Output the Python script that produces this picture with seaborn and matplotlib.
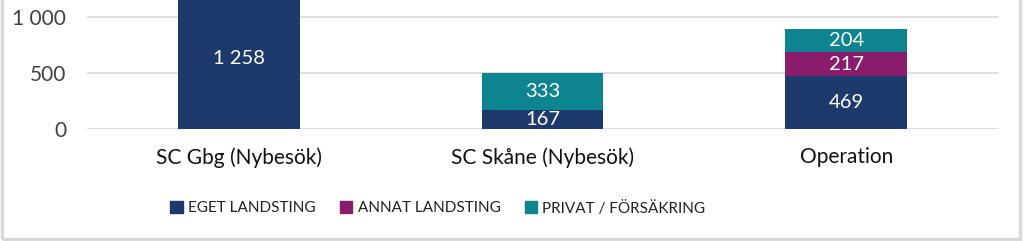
import matplotlib
matplotlib.use("Agg")
import matplotlib.pyplot as plt
import matplotlib.patches as mpatches
from matplotlib import font_manager
import seaborn as sns
import pandas as pd
import numpy as np

categories = ["SC Gbg (Nybesök)", "SC Skåne (Nybesök)", "Operation"]
eget = [1258, 167, 469]
annat = [0, 0, 217]
privat = [0, 333, 204]
series_names = ["EGET LANDSTING", "ANNAT LANDSTING", "PRIVAT / FÖRSÄKRING"]
yticks = [0, 500, 1000]
ytick_labels = ["0", "500", "1 000"]

colors = ["#1E3A6C", "#8A1D6B", "#0F8491"]

sns.set_theme(style="white")
avail = {f.name for f in font_manager.fontManager.ttflist}
main_font = "Lato" if "Lato" in avail else "DejaVu Sans"
plt.rcParams["font.family"] = [main_font, "DejaVu Sans"]

df = pd.DataFrame({"cat": categories, "eget": eget, "annat": annat, "privat": privat})
df["c1"] = df["eget"]
df["c2"] = df["eget"] + df["annat"]
df["c3"] = df["c2"] + df["privat"]

fig = plt.figure(figsize=(10.24, 2.41), dpi=100)
ax = fig.add_axes([87 / 1024, (241 - 129) / 241, (998 - 87) / 1024, 129 / 241])

for col, color in zip(["c3", "c2", "c1"], colors[::-1]):
    sns.barplot(data=df, x="cat", y=col, color=color, width=0.4, ax=ax,
                saturation=1, zorder=3, linewidth=0)

ax.set_ylim(0, 1152)
ax.set_yticks(yticks)
ax.set_yticklabels(ytick_labels)
ax.set_xlabel("")
ax.set_ylabel("")
for s in ax.spines.values():
    s.set_visible(False)
ax.grid(axis="y", color="#D9D9D9", linewidth=1.2, zorder=0)
ax.set_axisbelow(True)
ax.tick_params(axis="y", length=0, pad=15, labelsize=15, labelcolor="#404040")
ax.tick_params(axis="x", length=0, pad=13, labelsize=15, labelcolor="#111111")

# value labels
for i in range(len(categories)):
    bottoms = [0, df["c1"][i], df["c2"][i]]
    vals = [eget[i], annat[i], privat[i]]
    for b, v in zip(bottoms, vals):
        if v > 0:
            txt = f"{v:,}".replace(",", " ")
            ax.text(i, b + v / 2, txt, ha="center", va="center", color="white",
                    fontsize=14.5, zorder=5)

handles = [mpatches.Patch(color=c, label=n) for c, n in zip(colors, series_names)]
leg = fig.legend(handles=handles, loc="center", bbox_to_anchor=(438 / 1024, (241 - 208) / 241),
                 ncol=3, frameon=False, handlelength=0.8, handleheight=0.8,
                 handletextpad=0.35, columnspacing=1.6,
                 prop={"family": main_font, "size": 11})
for t in leg.get_texts():
    t.set_color("#222222")

border = mpatches.Rectangle((2 / 1024, 2 / 241), 1018 / 1024, 1.2, transform=fig.transFigure,
                            fill=False, edgecolor="#D9D9D9", linewidth=2.5, zorder=10)
fig.add_artist(border)

fig.savefig("out.png", dpi=100)
